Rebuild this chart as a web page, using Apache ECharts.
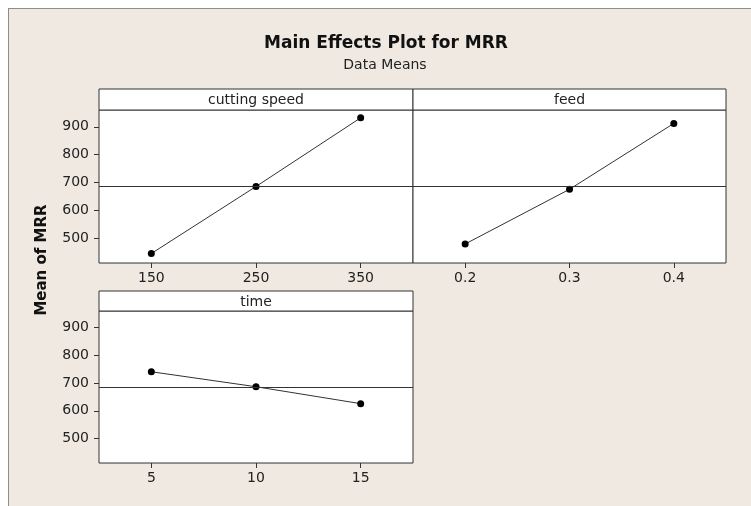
<!DOCTYPE html>
<html>
<head>
<meta charset="utf-8">
<script src="https://cdn.jsdelivr.net/npm/echarts@6/dist/echarts.min.js"></script>
<style>
  body { margin: 0; background: #ffffff; }
  #frame {
    position: absolute; left: 8px; top: 8px; width: 760px; height: 510px;
    background: #efe9e1; border: 1px solid #8c8c8c;
  }
  #chart { position: absolute; left: 0; top: 0; width: 751px; height: 506px; }
</style>
</head>
<body>
<div id="frame"></div>
<div id="chart"></div>
<script>
// factor levels and the mean MRR at each level
var speedLevels = ['150', '250', '350']
var speedMeans = [446, 686, 932]
var feedLevels = ['0.2', '0.3', '0.4']
var feedMeans = [480, 676, 912]
var timeLevels = ['5', '10', '15']
var timeMeans = [741, 687, 626]
var grandMean = 686
var yTicks = [500, 600, 700, 800, 900]

var FONT = 'DejaVu Sans'
var INK = '#222'

var chart = echarts.init(document.getElementById('chart'))

// one panel = grid + x axis + y axis + series
var panels = [
  { name: 'cutting speed', levels: speedLevels, means: speedMeans, left: 99, top: 110, width: 314, height: 153, yLabels: true },
  { name: 'feed', levels: feedLevels, means: feedMeans, left: 413, top: 110, width: 313, height: 153, yLabels: false },
  { name: 'time', levels: timeLevels, means: timeMeans, left: 99, top: 311, width: 314, height: 152, yLabels: true },
]

var grids = [], xAxes = [], yAxes = [], series = [], graphics = []

panels.forEach(function (p, i) {
  grids.push({
    left: p.left, top: p.top, width: p.width, height: p.height,
    show: true, backgroundColor: '#ffffff', borderColor: '#333', borderWidth: 1,
  })
  xAxes.push({
    type: 'category', gridIndex: i, data: p.levels, boundaryGap: true,
    axisLine: { show: false },
    axisTick: { show: true, alignWithLabel: true, length: 5, lineStyle: { color: '#333' } },
    axisLabel: { color: INK, fontFamily: FONT, fontSize: 14, margin: 8 },
    splitLine: { show: false },
  })
  yAxes.push({
    type: 'value', gridIndex: i, min: 412, max: 960,
    axisLine: { show: false },
    axisTick: { show: p.yLabels, length: 5, customValues: yTicks, lineStyle: { color: '#333' } },
    axisLabel: { show: p.yLabels, customValues: yTicks, color: INK, fontFamily: FONT, fontSize: 14, margin: 10 },
    splitLine: { show: false },
  })
  series.push({
    type: 'line', xAxisIndex: i, yAxisIndex: i, data: p.means,
    symbol: 'circle', symbolSize: 7,
    itemStyle: { color: '#000' },
    lineStyle: { color: '#333', width: 1 },
    markLine: {
      silent: true, symbol: 'none', label: { show: false },
      lineStyle: { color: '#333', width: 1, type: 'solid' },
      data: [{ yAxis: grandMean }],
    },
  })
  // panel header strip
  var hTop = i < 2 ? 89 : 291
  graphics.push({
    type: 'rect',
    shape: { x: p.left, y: hTop, width: p.width, height: p.top - hTop },
    style: { fill: '#ffffff', stroke: '#333', lineWidth: 1 },
  })
  graphics.push({
    type: 'text', x: p.left + p.width / 2, y: (hTop + p.top) / 2 + 1,
    style: { text: p.name, fill: INK, font: '14px "DejaVu Sans"', textAlign: 'center', textVerticalAlign: 'middle' },
  })
})

// shared y axis name
graphics.push({
  type: 'text', x: 42, y: 260, rotation: Math.PI / 2,
  style: { text: 'Mean of MRR', fill: '#111', font: 'bold 15px "DejaVu Sans"', textAlign: 'center', textVerticalAlign: 'middle' },
})

var option = {
  animation: false,
  title: [
    { text: 'Main Effects Plot for MRR', left: 386, top: 35, textAlign: 'center', padding: 0,
      textStyle: { fontFamily: FONT, fontSize: 17, fontWeight: 'bold', color: '#111' } },
    { text: 'Data Means', left: 385, top: 58, textAlign: 'center', padding: 0,
      textStyle: { fontFamily: FONT, fontSize: 14, fontWeight: 'normal', color: INK } },
  ],
  grid: grids,
  xAxis: xAxes,
  yAxis: yAxes,
  series: series,
  graphic: graphics,
}
chart.setOption(option)
</script>
</body>
</html>
